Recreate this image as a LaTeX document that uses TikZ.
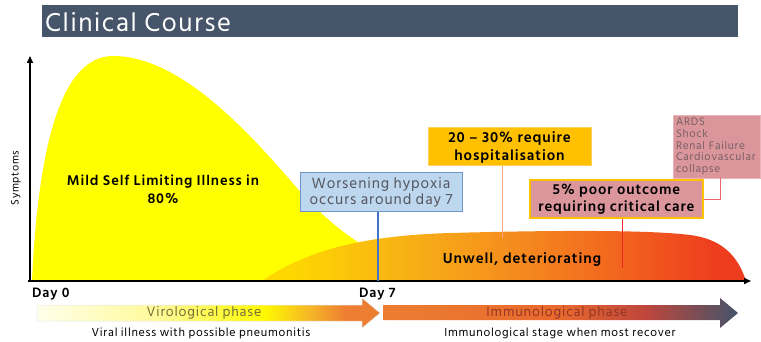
\documentclass[tikz,border=0pt]{standalone}
\usepackage{fontspec}
\setmainfont{Hind Siliguri}[LetterSpace=6]
\usetikzlibrary{arrows.meta,shadings}
\definecolor{titlebg}{RGB}{70,85,106}
\definecolor{ylw}{RGB}{255,255,0}
\definecolor{boxblue}{RGB}{189,215,238}
\definecolor{boxblueb}{RGB}{110,150,205}
\definecolor{lineblue}{RGB}{68,114,196}
\definecolor{gold}{RGB}{255,192,0}
\definecolor{goldb}{RGB}{255,210,90}
\definecolor{pinkbox}{RGB}{219,150,156}
\definecolor{pinkb}{RGB}{235,180,185}
\definecolor{greytext}{RGB}{85,85,95}
\definecolor{ardstext}{RGB}{120,95,100}
\definecolor{hospline}{RGB}{250,170,130}
\definecolor{redline}{RGB}{235,40,40}
\definecolor{ardsline}{RGB}{240,100,110}
\definecolor{virotext}{RGB}{115,110,60}
\definecolor{immtext}{RGB}{150,55,40}
% shadings (path spans 25bp..75bp)
\definecolor{oA}{RGB}{255,215,0}
\definecolor{oB}{RGB}{248,180,20}
\definecolor{oC}{RGB}{245,140,30}
\definecolor{oD}{RGB}{242,100,30}
\definecolor{oE}{RGB}{238,60,30}
\pgfdeclarehorizontalshading{unwell}{100bp}{color(0bp)=(oA); color(28bp)=(oA); color(39bp)=(oB); color(51bp)=(oC); color(62bp)=(oD); color(72bp)=(oE); color(100bp)=(oE)}
\definecolor{vA}{RGB}{255,255,235}
\definecolor{vB}{RGB}{255,250,150}
\definecolor{vC}{RGB}{255,250,0}
\definecolor{vD}{RGB}{245,180,40}
\definecolor{vE}{RGB}{237,125,49}
\pgfdeclarehorizontalshading{viro}{100bp}{color(0bp)=(vA); color(25bp)=(vA); color(43bp)=(vB); color(58bp)=(vC); color(65bp)=(vD); color(70bp)=(vE); color(100bp)=(vE)}
\definecolor{iA}{RGB}{237,125,49}
\definecolor{iB}{RGB}{232,105,45}
\definecolor{iC}{RGB}{190,70,60}
\definecolor{iD}{RGB}{68,84,106}
\pgfdeclarehorizontalshading{immuno}{100bp}{color(0bp)=(iA); color(25bp)=(iA); color(50bp)=(iB); color(62bp)=(iC); color(75bp)=(iD); color(100bp)=(iD)}
\tikzset{
  infobox/.style={draw, line width=1pt, align=center, inner sep=2pt},
  axisline/.style={line width=1.6pt, -{Triangle[length=7pt,width=6pt]}},
  boldtxt/.style={font=\fontsize{#1}{18}\selectfont\bfseries, align=center},
}
\begin{document}
\begin{tikzpicture}[x=1pt,y=-1pt]
\useasboundingbox (0,0) rectangle (761,342);
% title
\node[fill=titlebg, minimum width=696pt, minimum height=32pt, inner sep=0pt] (titlebar) at (390,21) {};
\node[anchor=west, text=white, font=\fontsize{26.5}{30}\selectfont, inner sep=0pt] (title) at (45,22) {Clinical Course};
% yellow curve
\fill[ylw] (32,281) .. controls (38,150) and (60,56) .. (113,56)
  .. controls (170,56) and (230,110) .. (290,180)
  .. controls (320,215) and (350,245) .. (430,281) -- cycle;
% orange hump
\path[shading=unwell] (262,281) .. controls (300,255) and (350,236) .. (450,233)
  .. controls (560,230) and (650,230) .. (690,235)
  .. controls (722,239) and (738,256) .. (746,281) -- cycle;
% axes
\coordinate (origin) at (30,281);
\coordinate (ytop) at (30,56);
\coordinate (xend) at (751,281);
\draw[axisline] (origin) -- (ytop);
\draw[axisline] (28,281) -- (xend);
\node[rotate=90, font=\fontsize{11}{14}\selectfont, inner sep=0pt] (symp) at (16,178) {Symptoms};
% texts in chart
\node[boldtxt=14.5] (mild) at (163,189) {Mild Self Limiting Illness in\\80\%};
\node[boldtxt=15] (unwell) at (522,259) {Unwell, deteriorating};
% hypoxia box
\node[infobox, draw=boxblueb, fill=boxblue, minimum width=162pt, minimum height=39pt, text=greytext, font=\fontsize{15.2}{16.5}\selectfont] (hyp) at (381,192.5) {Worsening hypoxia\\occurs around day 7};
\coordinate (day7ax) at (378,281);
\draw[lineblue, line width=1.6pt] (hyp.south -| day7ax) -- (day7ax);
% hospitalisation box
\node[infobox, draw=goldb, fill=gold, minimum width=163pt, minimum height=38pt, boldtxt=15] (hosp) at (509.5,147) {20 -- 30\% require\\hospitalisation};
\coordinate (hospend) at (502,238);
\draw[hospline, line width=1pt] (hosp.south -| hospend) -- (hospend);
% poor outcome box
\node[infobox, draw=gold, line width=1.4pt, fill=pinkbox, minimum width=173pt, minimum height=38pt, font=\fontsize{14.8}{16.7}\selectfont\bfseries] (poor) at (616.5,199) {5\% poor outcome\\requiring critical care};
\coordinate (poorend) at (622,268);
\draw[redline, line width=1pt] (poor.south -| poorend) -- (poorend);
% ARDS box
\node[draw=pinkb, line width=0.6pt, fill=pinkbox, minimum width=87pt, minimum height=61pt, text width=81pt, inner sep=3pt, align=left, text=ardstext, font=\fontsize{11.3}{11.7}\selectfont] (ards) at (716.5,146.5) {ARDS\\Shock\\Renal Failure\\Cardiovascular\\collapse};
\coordinate (ardsbend) at (720,200);
\draw[ardsline, line width=1pt] (ards.south -| ardsbend) -- (ardsbend) -- (poor.east |- ardsbend);
% day labels
\node[font=\fontsize{14}{15}\selectfont\bfseries, anchor=west, inner sep=0pt] (day0) at (32,294) {Day 0};
\node[font=\fontsize{14}{15}\selectfont\bfseries, anchor=west, inner sep=0pt] (day7) at (359,294) {Day 7};
% phase arrows
\path[shading=viro, draw=black!10, line width=0.5pt] (37,305) -- (362,305) -- (362,298) -- (380,313) -- (362,328) -- (362,321) -- (37,321) -- cycle;
\node[text=virotext, font=\fontsize{14}{15}\selectfont, inner sep=0pt] (viro) at (204,313) {Virological phase};
\path[shading=immuno] (383,305) -- (720,305) -- (720,298) -- (738,313) -- (720,328) -- (720,320) -- (383,320) -- cycle;
\node[text=immtext, font=\fontsize{14}{15}\selectfont, inner sep=0pt] (immuno) at (557,312.5) {Immunological phase};
% captions
\node[font=\fontsize{12}{13}\selectfont, inner sep=0pt] (cap1) at (201,333) {Viral illness with possible pneumonitis};
\node[font=\fontsize{12}{13}\selectfont, inner sep=0pt] (cap2) at (560,333) {Immunological stage when most recover};
\end{tikzpicture}
\end{document}
